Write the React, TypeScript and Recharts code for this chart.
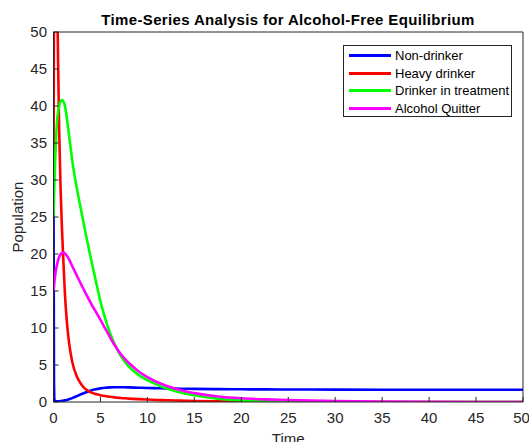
import React from 'react';
import { LineChart, Line, XAxis, YAxis } from 'recharts';

const time = [0, 0.05, 0.1, 0.2, 0.3, 0.4, 0.5, 0.6, 0.75, 0.9, 1.0, 1.2, 1.4, 1.6, 1.8, 2, 2.5, 3, 3.5, 4, 4.5, 5, 5.5, 6, 6.5, 7, 7.5, 8, 9, 10, 11, 12, 13, 14, 15, 17.5, 20, 22.5, 25, 30, 35, 40, 45, 50];

const nonDrinker = [30, 3, 0.3, 0.12, 0.1, 0.1, 0.1, 0.1, 0.12, 0.15, 0.17, 0.22, 0.28, 0.35, 0.43, 0.52, 0.8, 1.08, 1.33, 1.54, 1.71, 1.84, 1.93, 1.98, 2.0, 2.0, 1.99, 1.97, 1.93, 1.89, 1.86, 1.83, 1.81, 1.79, 1.77, 1.74, 1.72, 1.7, 1.69, 1.67, 1.66, 1.66, 1.65, 1.65];

const heavyDrinker = [30, 52, 62, 66, 62, 54, 45, 37, 29, 23.5, 20.5, 15, 11.2, 8.6, 6.8, 5.4, 3.4, 2.3, 1.65, 1.3, 1.08, 0.92, 0.8, 0.7, 0.62, 0.56, 0.5, 0.46, 0.39, 0.33, 0.28, 0.24, 0.2, 0.17, 0.14, 0.09, 0.06, 0.04, 0.03, 0.01, 0.005, 0, 0, 0];

const drinkerInTreatment = [25, 27.5, 29.8, 33.5, 36.3, 38.3, 39.3, 40.0, 40.6, 40.8, 40.75, 40.1, 38.6, 36.6, 34.6, 32.6, 28.8, 25.5, 22.3, 19.3, 16.4, 13.6, 11.3, 9.4, 7.85, 6.6, 5.6, 4.8, 3.7, 2.95, 2.35, 1.85, 1.45, 1.15, 0.9, 0.45, 0.2, 0.1, 0.05, 0.01, 0, 0, 0, 0];

const alcoholQuitter = [15, 15.7, 16.3, 17.3, 18.1, 18.7, 19.2, 19.6, 19.95, 20.15, 20.2, 20.1, 19.8, 19.4, 18.9, 18.35, 17.05, 15.75, 14.5, 13.3, 12.2, 11.1, 9.95, 8.8, 7.7, 6.75, 5.95, 5.3, 4.2, 3.35, 2.7, 2.2, 1.8, 1.45, 1.2, 0.75, 0.5, 0.35, 0.25, 0.12, 0.06, 0.03, 0.01, 0];

const xTicks = [0, 5, 10, 15, 20, 25, 30, 35, 40, 45, 50];
const yTicks = [0, 5, 10, 15, 20, 25, 30, 35, 40, 45, 50];

const seriesNames = ['Non-drinker', 'Heavy drinker', 'Drinker in treatment', 'Alcohol Quitter'];
const seriesKeys = ['nonDrinker', 'heavyDrinker', 'drinkerInTreatment', 'alcoholQuitter'];
const seriesColors = ['#0000ff', '#ff0000', '#00ff00', '#ff00ff'];

const data = time.map((t, i) => ({
  t,
  nonDrinker: nonDrinker[i],
  heavyDrinker: heavyDrinker[i],
  drinkerInTreatment: drinkerInTreatment[i],
  alcoholQuitter: alcoholQuitter[i],
}));

const FONT = '"Liberation Sans", Arial, Helvetica, sans-serif';
const AXIS = '#262626';

export default function App() {
  return (
    <div style={{ position: 'absolute', left: 0, top: 0, width: 529, height: 442, background: '#fff', fontFamily: FONT, overflow: 'hidden' }}>
      <LineChart
        width={529}
        height={442}
        data={data}
        margin={{ top: 31, right: 5, bottom: 0, left: 0 }}
        style={{ fontFamily: FONT }}
      >
        <XAxis
          xAxisId="bottom"
          dataKey="t"
          type="number"
          domain={[0, 50]}
          ticks={xTicks}
          allowDataOverflow
          height={40}
          tickSize={-5}
          tickMargin={15}
          stroke={AXIS}
          tick={{ fill: AXIS, fontSize: 15 }}
          label={{ value: 'Time', position: 'insideBottom', offset: -2, fill: AXIS, fontSize: 15 }}
        />
        <XAxis
          xAxisId="top"
          dataKey="t"
          type="number"
          orientation="top"
          domain={[0, 50]}
          ticks={xTicks}
          allowDataOverflow
          height={1}
          tickSize={-5}
          tick={false}
          stroke={AXIS}
        />
        <YAxis
          yAxisId="left"
          type="number"
          domain={[0, 50]}
          ticks={yTicks}
          allowDataOverflow
          width={53.5}
          tickSize={-5}
          tickMargin={11.5}
          stroke={AXIS}
          tick={{ fill: AXIS, fontSize: 15 }}
          label={{ value: 'Population', angle: -90, position: 'insideLeft', offset: 17.5, fill: AXIS, fontSize: 15, style: { textAnchor: 'middle' } }}
        />
        <YAxis
          yAxisId="right"
          type="number"
          orientation="right"
          domain={[0, 50]}
          ticks={yTicks}
          allowDataOverflow
          width={1}
          tickSize={-5}
          tick={false}
          stroke={AXIS}
        />
        {seriesKeys.map((k, i) => (
          <Line
            key={k}
            xAxisId="bottom"
            yAxisId="left"
            dataKey={k}
            name={seriesNames[i]}
            type="monotone"
            stroke={seriesColors[i]}
            strokeWidth={2.6}
            dot={false}
            activeDot={false}
            isAnimationActive={false}
          />
        ))}
      </LineChart>
      <div
        style={{
          position: 'absolute',
          left: 0,
          top: 12,
          width: 576,
          textAlign: 'center',
          fontWeight: 'bold',
          fontSize: 15,
          letterSpacing: 0.35,
          lineHeight: '16px',
          color: '#000',
          whiteSpace: 'nowrap',
        }}
      >
        Time-Series Analysis for Alcohol-Free Equilibrium
      </div>
      <div
        style={{
          position: 'absolute',
          left: 343,
          top: 45,
          width: 167,
          height: 70,
          border: `1px solid ${AXIS}`,
          background: '#fff',
          boxSizing: 'content-box',
        }}
      >
        {seriesNames.map((n, i) => (
          <div key={n} style={{ position: 'absolute', left: 0, top: 1 + i * 17.5, height: 17.5, display: 'flex', alignItems: 'center', whiteSpace: 'nowrap' }}>
            <div style={{ marginLeft: 5, width: 42, height: 2.6, background: seriesColors[i] }} />
            <span style={{ marginLeft: 4, fontSize: 13, color: '#000' }}>{n}</span>
          </div>
        ))}
      </div>
    </div>
  );
}
